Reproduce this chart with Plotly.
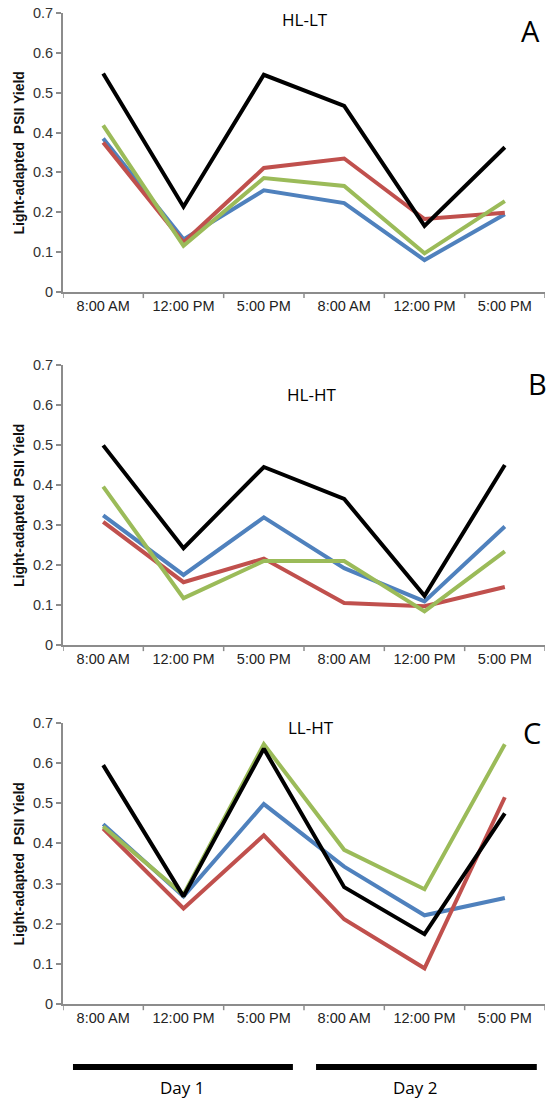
import plotly.graph_objects as go

tick_labels = ["8:00 AM", "12:00 PM", "5:00 PM", "8:00 AM", "12:00 PM", "5:00 PM"]
cats = [0, 1, 2, 3, 4, 5]

# Panel A: HL-LT
a_blue = [0.385, 0.132, 0.255, 0.223, 0.080, 0.195]
a_red = [0.375, 0.124, 0.311, 0.335, 0.183, 0.199]
a_green = [0.418, 0.116, 0.286, 0.266, 0.097, 0.228]
a_black = [0.548, 0.214, 0.545, 0.467, 0.166, 0.363]

# Panel B: HL-HT
b_blue = [0.324, 0.175, 0.319, 0.192, 0.109, 0.296]
b_red = [0.308, 0.157, 0.216, 0.105, 0.097, 0.145]
b_green = [0.396, 0.117, 0.210, 0.210, 0.084, 0.234]
b_black = [0.499, 0.242, 0.445, 0.365, 0.123, 0.450]

# Panel C: LL-HT
c_blue = [0.448, 0.268, 0.498, 0.342, 0.221, 0.264]
c_red = [0.437, 0.238, 0.420, 0.211, 0.089, 0.515]
c_green = [0.442, 0.272, 0.647, 0.384, 0.286, 0.647]
c_black = [0.595, 0.268, 0.636, 0.291, 0.174, 0.475]

panel_titles = ["HL-LT", "HL-HT", "LL-HT"]
panel_letters = ["A", "B", "C"]
y_ticks = [0, 0.1, 0.2, 0.3, 0.4, 0.5, 0.6, 0.7]
y_tick_text = ["0", "0.1", "0.2", "0.3", "0.4", "0.5", "0.6", "0.7"]
y_title = "Light-adapted  PSII Yield"
day_labels = ["Day 1", "Day 2"]

colors = {"blue": "#4F81BD", "red": "#C0504D", "green": "#9BBB59", "black": "#000000"}

panels = [
    (a_blue, a_red, a_green, a_black),
    (b_blue, b_red, b_green, b_black),
    (c_blue, c_red, c_green, c_black),
]

fig = go.Figure()
domains = [[0.7185, 1.0], [0.3623, 0.6448], [0.0, 0.2836]]

for i, series in enumerate(panels):
    suffix = "" if i == 0 else str(i + 1)
    for name, vals in zip(["blue", "red", "green", "black"], series):
        fig.add_trace(go.Scatter(
            x=cats, y=vals, mode="lines",
            line=dict(color=colors[name], width=4),
            xaxis="x" + suffix, yaxis="y" + suffix,
            showlegend=False, hoverinfo="skip", cliponaxis=False,
        ))

axis_color = "#8c8c8c"
font_family = "Liberation Sans, Arial, sans-serif"
layout = dict(
    width=546, height=1099,
    margin=dict(l=63, r=1, t=13, b=95, autoexpand=False),
    paper_bgcolor="white", plot_bgcolor="white",
    showlegend=False,
)
for i in range(3):
    suffix = "" if i == 0 else str(i + 1)
    layout["xaxis" + suffix] = dict(
        domain=[0, 1], anchor="y" + suffix,
        range=[-0.5, 5.5], tickmode="array", tickvals=cats, ticktext=tick_labels,
        showline=True, linecolor=axis_color, linewidth=2,
        ticks="", showgrid=False, zeroline=False,
        tickfont=dict(family=font_family, size=14.5, color="#222222"),
        fixedrange=True, automargin=False, ticklabeloverflow="allow",
    )
    layout["yaxis" + suffix] = dict(
        domain=domains[i], anchor="x" + suffix,
        range=[0, 0.7], tickmode="array", tickvals=y_ticks, ticktext=y_tick_text,
        showline=True, linecolor=axis_color, linewidth=2,
        ticks="outside", ticklen=5, tickwidth=1.5, tickcolor=axis_color,
        showgrid=False, zeroline=False,
        tickfont=dict(family=font_family, size=14.5, color="#333333"),
        fixedrange=True, automargin=False, ticklabeloverflow="allow",
    )
fig.update_layout(**layout)

# category boundary tick marks on x axes
shapes = []
for i in range(3):
    suffix = "" if i == 0 else str(i + 1)
    for b in [-0.5, 0.5, 1.5, 2.5, 3.5, 4.5, 5.5]:
        shapes.append(dict(type="line", xref="x" + suffix, yref="y" + suffix + " domain",
                           x0=b, x1=b, y0=0, y1=-0.022,
                           line=dict(color=axis_color, width=1.5)))

# Day bars
day_spans = [(0.0207, 0.477), (0.525, 0.983)]
for x0, x1 in day_spans:
    shapes.append(dict(type="line", xref="paper", yref="paper", x0=x0, x1=x1,
                       y0=-0.0636, y1=-0.0636, line=dict(color="black", width=6)))
fig.update_layout(shapes=shapes)

title_font = "Open Sans, Lato, sans-serif"
annotations = []
title_pos = [(0.502, 0.993), (0.515, 0.6155), (0.515, 0.2795)]
letter_pos = [(0.969, 0.982), (0.985, 0.6266), (0.972, 0.2735)]
for i in range(3):
    annotations.append(dict(text=panel_titles[i], x=title_pos[i][0], y=title_pos[i][1],
                            xref="paper", yref="paper", showarrow=False,
                            xanchor="center", yanchor="middle",
                            font=dict(family=title_font, size=17, color="black")))
    annotations.append(dict(text=panel_letters[i], x=letter_pos[i][0], y=letter_pos[i][1],
                            xref="paper", yref="paper", showarrow=False,
                            xanchor="center", yanchor="middle",
                            font=dict(family=title_font, size=29, color="black")))
    annotations.append(dict(text="<b>" + y_title + "</b>", x=-0.0913,
                            y=(domains[i][0] + domains[i][1]) / 2,
                            xref="paper", yref="paper", showarrow=False, textangle=-90,
                            xanchor="center", yanchor="middle",
                            font=dict(family=font_family, size=14, color="#111111")))
day_text_x = [0.247, 0.730]
for lbl, xx in zip(day_labels, day_text_x):
    annotations.append(dict(text=lbl, x=xx, y=-0.0838,
                            xref="paper", yref="paper", showarrow=False,
                            xanchor="center", yanchor="middle",
                            font=dict(family=title_font, size=17, color="black")))
fig.update_layout(annotations=annotations)

fig.write_html("out.html", config={"displayModeBar": False},
               post_script="document.body.style.margin='0';")
